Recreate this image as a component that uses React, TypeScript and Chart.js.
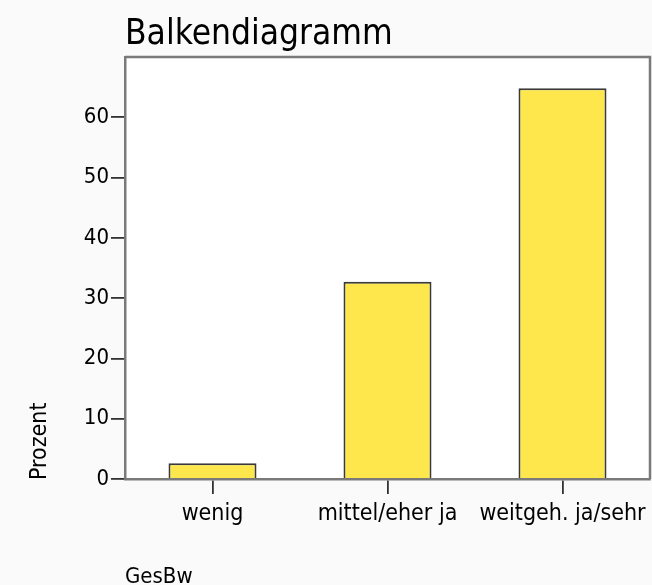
import React, { useEffect, useRef } from "react";
import { Chart, registerables } from "chart.js";

Chart.register(...registerables);

const chartTitle = "Balkendiagramm";
const xAxisTitle = "GesBw";
const yAxisTitle = "Prozent";
const categories = ["wenig", "mittel/eher ja", "weitgeh. ja/sehr"];
const percentValues = [2.6, 32.7, 64.8];
const yTickMax = 70;
const yTickStep = 10;

const FONT = "'DejaVu Sans Condensed', 'DejaVu Sans', sans-serif";

const framePlugin = {
  id: "frame",
  beforeDraw(chart: any) {
    const { ctx, chartArea } = chart;
    ctx.save();
    ctx.fillStyle = "#fafafa";
    ctx.fillRect(0, 0, chart.width, chart.height);
    ctx.fillStyle = "#ffffff";
    ctx.fillRect(chartArea.left, chartArea.top, chartArea.right - chartArea.left, chartArea.bottom - chartArea.top);
    ctx.restore();
  },
  afterDraw(chart: any) {
    const { ctx, chartArea } = chart;
    ctx.save();
    ctx.strokeStyle = "#7a7a7a";
    ctx.lineWidth = 2.5;
    ctx.beginPath();
    ctx.moveTo(chartArea.left, chartArea.top);
    ctx.lineTo(chartArea.right, chartArea.top);
    ctx.lineTo(chartArea.right, chartArea.bottom);
    ctx.stroke();
    ctx.fillStyle = "#000000";
    ctx.textBaseline = "alphabetic";
    ctx.textAlign = "left";
    ctx.font = `35px ${FONT}`;
    ctx.fillText(chartTitle, chartArea.left, 44);
    ctx.font = `22px ${FONT}`;
    ctx.fillText(xAxisTitle, chartArea.left, 583);
    ctx.font = `23px ${FONT}`;
    ctx.translate(46, chartArea.bottom + 1);
    ctx.rotate(-Math.PI / 2);
    ctx.fillText(yAxisTitle, 0, 0);
    ctx.restore();
  },
};

export default function App() {
  const ref = useRef<HTMLCanvasElement>(null);
  useEffect(() => {
    document.body.style.margin = "0";
    const chart = new Chart(ref.current as HTMLCanvasElement, {
      type: "bar",
      data: {
        labels: categories,
        datasets: [
          {
            data: percentValues,
            backgroundColor: "#fde74c",
            borderColor: "#3a3a3a",
            borderWidth: 2,
            barPercentage: 0.503,
            categoryPercentage: 1,
          },
        ],
      },
      options: {
        responsive: false,
        animation: false,
        layout: { padding: { top: 57, right: 2, left: 0, bottom: 0 } },
        plugins: { legend: { display: false }, tooltip: { enabled: false }, title: { display: false } },
        scales: {
          x: {
            afterFit(scale: any) {
              scale.height = 106;
            },
            border: { color: "#7a7a7a", width: 2.5 },
            grid: {
              offset: false,
              drawOnChartArea: false,
              tickLength: 15,
              color: "#333333",
              lineWidth: 1.8,
            },
            ticks: { color: "#000000", font: { family: FONT, size: 23 }, padding: 6, maxRotation: 0 },
          },
          y: {
            min: 0,
            max: yTickMax,
            afterFit(scale: any) {
              scale.width = 125;
            },
            border: { color: "#7a7a7a", width: 2.5 },
            grid: {
              drawOnChartArea: false,
              tickLength: 14,
              color: (c: any) => (c.tick && c.tick.value === yTickMax ? "rgba(0,0,0,0)" : "#333333"),
              lineWidth: 1.8,
            },
            ticks: {
              stepSize: yTickStep,
              color: "#000000",
              font: { family: FONT, size: 22 },
              padding: 2,
              callback: (v: any) => (v === yTickMax ? "" : String(v)),
            },
          },
        },
      },
      plugins: [framePlugin],
    });
    return () => chart.destroy();
  }, []);
  return (
    <div style={{ width: 652, height: 585 }}>
      <canvas ref={ref} width={652} height={585} style={{ display: "block" }} />
    </div>
  );
}
